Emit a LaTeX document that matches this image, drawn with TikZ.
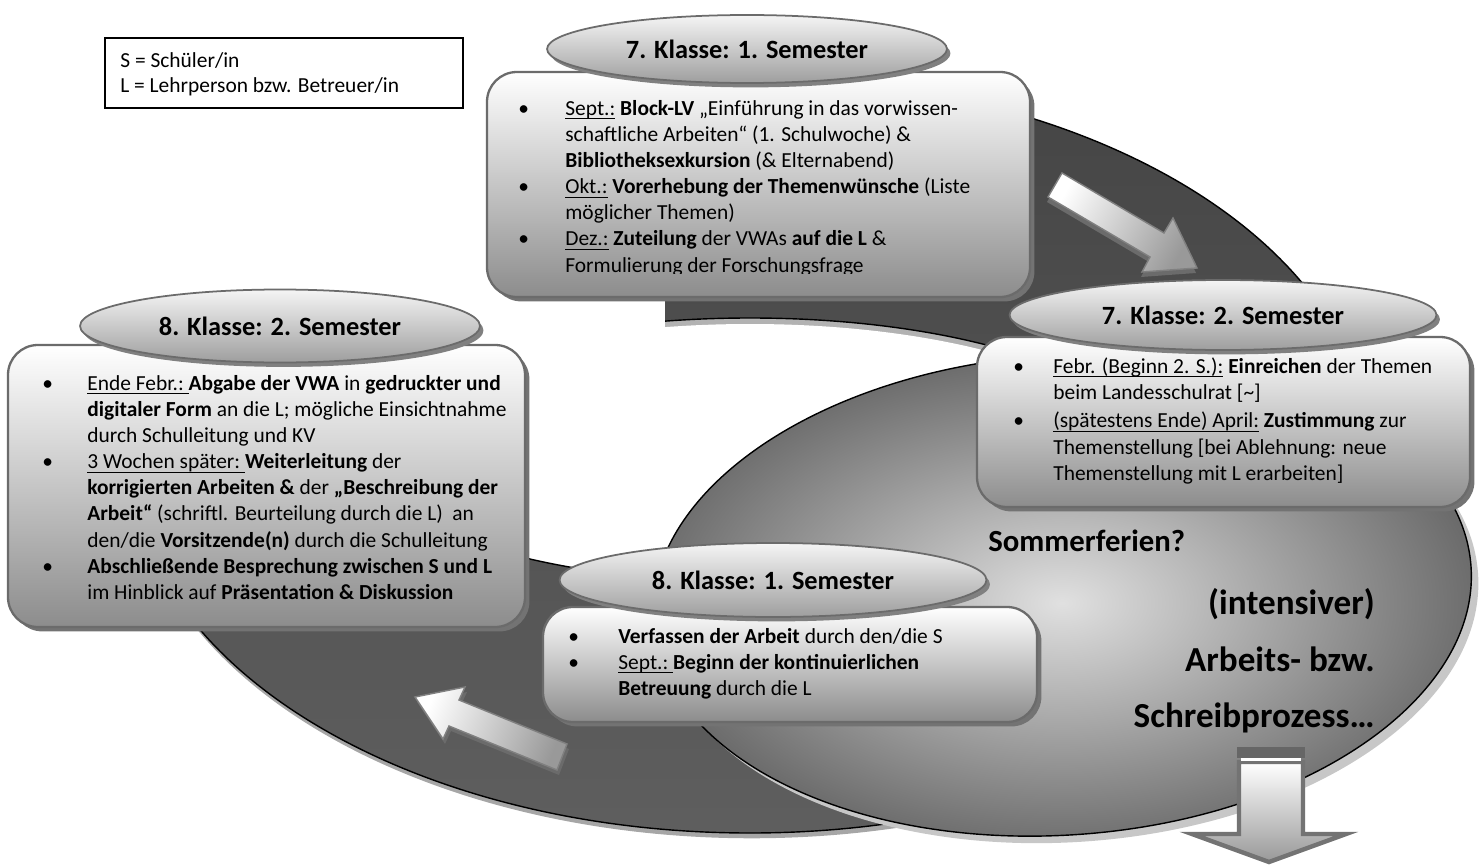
\documentclass[tikz,border=0pt]{standalone}
\usepackage{fontspec}
\setmainfont{Carlito}
\usetikzlibrary{shapes.geometric,shadows,fit}

\newcommand{\bodyfont}{\fontsize{12.2}{14.9}\selectfont}
\newcommand{\headfont}{\fontsize{15}{18}\selectfont\bfseries}
% underline at a fixed depth
\newcommand{\unt}[1]{\setbox0\hbox{#1}\rlap{\rule[-2.3pt]{\wd0}{0.55pt}}\box0\relax}

\tikzset{
  ringfill/.style={draw=black, line width=0.8pt, top color=black!73, bottom color=black!63,
    drop shadow={shadow xshift=1pt, shadow yshift=-3pt, fill=black!35, opacity=1}},
  lightfill/.style={draw=black, line width=0.8pt, inner color=black!12, outer color=black!58,
    drop shadow={shadow xshift=4pt, shadow yshift=-4pt, fill=black!22, opacity=1}},
  infobox/.style={draw=black!58, line width=1.3pt, rounded corners=17pt, inner sep=0pt,
    top color=white, bottom color=black!45,
    drop shadow={shadow xshift=2.5pt, shadow yshift=-2.5pt, fill=black!55, opacity=1}},
  semlabel/.style={ellipse, draw=black!58, line width=1pt, inner sep=0pt, font=\headfont,
    top color=black!4, bottom color=black!38,
    drop shadow={shadow xshift=2pt, shadow yshift=-2.5pt, fill=black!50, opacity=1}},
  boxtext/.style={inner sep=0pt, anchor=base west, font=\bodyfont},
  bigtext/.style={inner sep=0pt, anchor=base east, font=\fontsize{20}{24}\selectfont\bfseries},
  blockarrow/.style={draw=black!50, line width=0.8pt, top color=white, bottom color=black!40},
  arrowshadow/.style={fill=black!58}
}

\begin{document}
\begin{tikzpicture}[x=0.02cm, y=-0.02cm]
  \useasboundingbox (0,0) rectangle (1480,865);

  % dark ring
  \path[ringfill] (750,455) ellipse [x radius=620, y radius=378];
  \begin{scope}
    \clip (750,450) ellipse [x radius=390, y radius=132];
    \fill[black!30] (750,450) ellipse [x radius=390, y radius=132];
    \fill[white] (750,456) ellipse [x radius=390, y radius=132];
  \end{scope}
  \draw[line width=0.8pt] (750,450) ellipse [x radius=390, y radius=132];
  \fill[white] (0,0) rectangle (665,545);

  % light ellipse
  \path[lightfill, rotate around={4:(1062,595)}] (1062,595) ellipse [x radius=410, y radius=240];

  % legend
  \node[draw, line width=0.8pt, fill=white, inner sep=0pt, fit={(105,38) (463,108)}] (legend) {};
  \node[boxtext] (legS) at (120,68) {S = Schüler/in};
  \node[boxtext] (legL) at (120,92) {L = Lehrperson bzw. Betreuer/in};

  % 7. Klasse, 1. Semester
  \node[infobox, fit={(487,72) (1030,297)}] (box71) {};
  \begin{scope}
    \clip (480,60) rectangle (1040,273);
    \node[boxtext] (txt71) at (518,115) {\begin{tabular}[t]{@{}p{0.94cm}@{}l@{}}
      \textbullet & \unt{Sept.:} \textbf{Block-LV} „Einführung in das vorwissen-\\
                  & schaftliche Arbeiten“ (1. Schulwoche) \&\\
                  & \textbf{Bibliotheksexkursion} (\& Elternabend)\\
      \textbullet & \unt{Okt.:} \textbf{Vorerhebung der Themenwünsche} (Liste\\
                  & möglicher Themen)\\
      \textbullet & \unt{Dez.:} \textbf{Zuteilung} der VWAs \textbf{auf die L} \&\\
                  & Formulierung der Forschungsfrage
    \end{tabular}};
  \end{scope}
  \node[semlabel, minimum width=8cm, minimum height=1.36cm] (lab71) at (747,49) {7. Klasse: 1. Semester};

  % 7. Klasse, 2. Semester
  \node[infobox, fit={(977,337) (1470,507)}] (box72) {};
  \node[boxtext] (txt72) at (1013,373) {\begin{tabular}[t]{@{}p{0.8cm}@{}l@{}}
      \textbullet & \unt{Febr. (Beginn 2. S.):} \textbf{Einreichen} der Themen\\
                  & beim Landesschulrat [\textasciitilde]\\[1.5pt]
      \textbullet & \unt{(spätestens Ende) April:} \textbf{Zustimmung} zur\\
                  & Themenstellung [bei Ablehnung: neue\\
                  & Themenstellung mit L erarbeiten]
    \end{tabular}};
  \node[semlabel, minimum width=8.54cm, minimum height=1.4cm] (lab72) at (1223,315) {7. Klasse: 2. Semester};

  % 8. Klasse, 2. Semester
  \node[infobox, fit={(8,345) (525,627)}] (box82) {};
  \node[boxtext] (txt82) at (42,390) {\begin{tabular}[t]{@{}p{0.9cm}@{}l@{}}
      \textbullet & \unt{Ende Febr.:\ }\textbf{Abgabe der VWA} in \textbf{gedruckter und}\\
                  & \textbf{digitaler Form} an die L; mögliche Einsichtnahme\\
                  & durch Schulleitung und KV\\
      \textbullet & \unt{3 Wochen später:\ }\textbf{Weiterleitung} der\\
                  & \textbf{korrigierten Arbeiten \&} der \textbf{„Beschreibung der}\\
                  & \textbf{Arbeit“} (schriftl. Beurteilung durch die L)\ \ an\\
                  & den/die \textbf{Vorsitzende(n)} durch die Schulleitung\\
      \textbullet & \textbf{Abschließende Besprechung zwischen S und L}\\
                  & im Hinblick auf \textbf{Präsentation \& Diskussion}
    \end{tabular}};
  \node[semlabel, minimum width=8cm, minimum height=1.46cm] (lab82) at (280,326) {8. Klasse: 2. Semester};

  % 8. Klasse, 1. Semester
  \node[infobox, fit={(543,607) (1037,722)}] (box81) {};
  \node[boxtext] (txt81) at (568,643) {\begin{tabular}[t]{@{}p{1cm}@{}l@{}}
      \textbullet & \textbf{Verfassen der Arbeit} durch den/die S\\
      \textbullet & \unt{Sept.:\ }\textbf{Beginn der kontinuierlichen}\\
                  & \textbf{Betreuung} durch die L
    \end{tabular}};
  \node[semlabel, minimum width=8.54cm, minimum height=1.48cm] (lab81) at (773,580) {8. Klasse: 1. Semester};

  % texts on the light ellipse
  \node[inner sep=0pt, anchor=base west, font=\fontsize{17.5}{21}\selectfont\bfseries] (sommer) at (988,551) {Sommerferien?};
  \node[bigtext] (intens) at (1375,614) {(intensiver)};
  \node[bigtext] (arbeits) at (1375,671) {Arbeits- bzw.};
  \node[bigtext] (schreib) at (1375,727) {Schreibprozess…};

  % arrows
  \fill[arrowshadow, shift={(-1,5)}] (1062,173) -- (1164,233) -- (1173,218) -- (1197,268) -- (1142,272) -- (1150,257) -- (1048,197) -- cycle;
  \path[blockarrow, shading angle=60] (1062,173) -- (1164,233) -- (1173,218) -- (1197,268) -- (1142,272) -- (1150,257) -- (1048,197) -- cycle;
  \fill[arrowshadow, shift={(2,5)}] (567,744) -- (459,700) -- (465,687) -- (415,697) -- (443,739) -- (449,726) -- (557,770) -- cycle;
  \path[blockarrow, shading angle=68] (567,744) -- (459,700) -- (465,687) -- (415,697) -- (443,739) -- (449,726) -- (557,770) -- cycle;
  \fill[black!60] (1237,747) rectangle (1305,758);
  \path[blockarrow, draw=black!55, line width=2.5pt] (1239,762) -- (1303,762) -- (1303,834) -- (1346,834) -- (1269,862) -- (1192,834) -- (1239,834) -- cycle;
  \draw[white, line width=1.5pt] (1241,759.5) -- (1301,759.5);
\end{tikzpicture}
\end{document}
